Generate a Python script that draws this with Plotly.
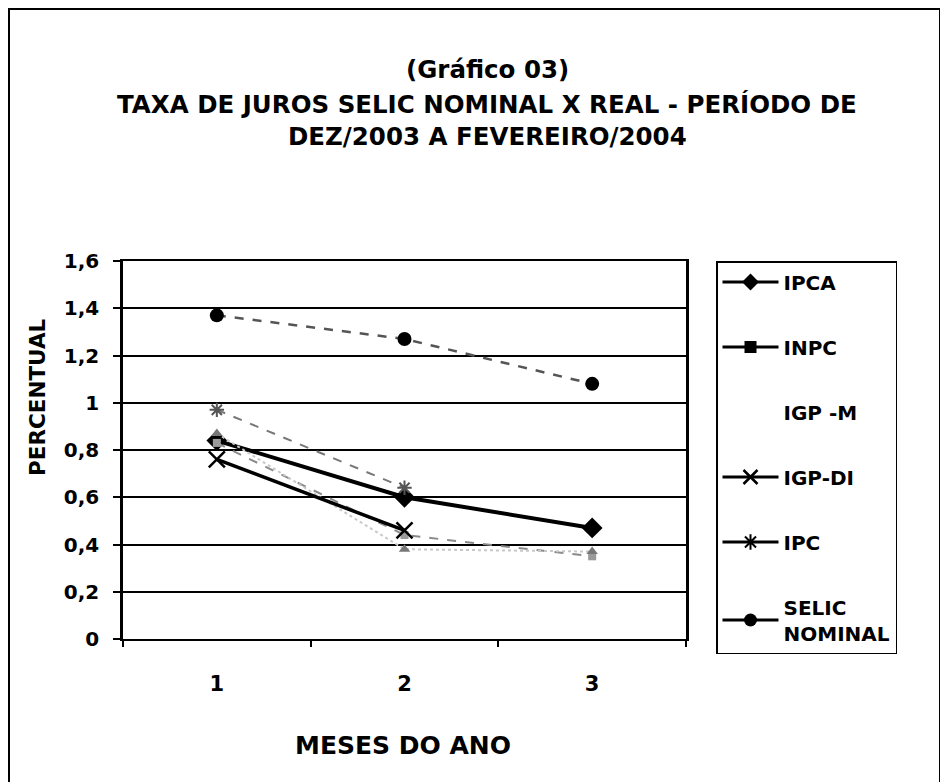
import plotly.graph_objects as go

meses = ["1", "2", "3"]
ipca = [0.84, 0.60, 0.47]
inpc = [0.83, 0.44, 0.35]
igpm = [0.87, 0.38, 0.37]
igpdi = [0.76, 0.46, None]
ipc = [0.97, 0.64, None]
selic = [1.37, 1.27, 1.08]

y_ticks = [0, 0.2, 0.4, 0.6, 0.8, 1, 1.2, 1.4, 1.6]
y_ticktext = ["0", "0,2", "0,4", "0,6", "0,8", "1", "1,2", "1,4", "1,6"]

title_lines = ["(Gráfico 03)",
               "TAXA DE JUROS SELIC NOMINAL X REAL - PERÍODO DE",
               "DEZ/2003 A FEVEREIRO/2004"]

FONT = "DejaVu Sans, Verdana, sans-serif"

fig = go.Figure()

# plotted series (as they appear in the scanned chart)
plot_styles = [
    ("IPCA", ipca, dict(color="black", width=4), dict(symbol="diamond", size=16, color="black")),
    ("INPC", inpc, dict(color="#8a8a8a", width=2, dash="dash"), dict(symbol="square", size=8, color="#9a9a9a")),
    ("IGP -M", igpm, dict(color="#c8c8c8", width=2, dash="dot"), dict(symbol="triangle-up", size=10, color="#777")),
    ("IGP-DI", igpdi, dict(color="black", width=3.5), dict(symbol="x-thin-open", size=16, color="black", line=dict(width=2.5, color="black"))),
    ("IPC", ipc, dict(color="#777", width=2, dash="dash"), dict(symbol="asterisk-open", size=12, color="#555", line=dict(width=2, color="#555"))),
    ("SELIC<br>NOMINAL", selic, dict(color="#555", width=2.5, dash="dash"), dict(symbol="circle", size=14, color="black")),
]

for name, vals, ln, mk in plot_styles:
    fig.add_trace(go.Scatter(x=meses, y=vals, mode="lines+markers", line=ln, marker=mk,
                             showlegend=False, legendgroup=name))

# legend entries (black, as in the legend of the reference)
legend_styles = [
    ("IPCA", dict(color="black", width=3), dict(symbol="diamond", size=13, color="black"), "lines+markers"),
    ("INPC", dict(color="black", width=3), dict(symbol="square", size=12, color="black"), "lines+markers"),
    ("IGP -M", dict(color="rgba(0,0,0,0)", width=3), dict(symbol="triangle-up", size=1, color="rgba(0,0,0,0)"), "lines"),
    ("IGP-DI", dict(color="black", width=3), dict(symbol="x-thin-open", size=14, color="black", line=dict(width=2.5, color="black")), "lines+markers"),
    ("IPC", dict(color="black", width=3), dict(symbol="asterisk-open", size=13, color="black", line=dict(width=2, color="black")), "lines+markers"),
    ("SELIC<br>NOMINAL", dict(color="black", width=3), dict(symbol="circle", size=13, color="black"), "lines+markers"),
]
for name, ln, mk, mode in legend_styles:
    fig.add_trace(go.Scatter(x=[None], y=[None], name=name, mode=mode, line=ln, marker=mk,
                             legendgroup=name, showlegend=True))

# page has an 8px body margin: figure origin is at page (8, 8)
OFF = 8
W, H = 948, 782
L, T = 123 - OFF, 261 - OFF
pw, ph = 563, 378
R = W - L - pw
B = H - T - ph

def px(page_x):
    return (page_x - OFF - L) / pw

def py(page_y):
    return (T + ph - (page_y - OFF)) / ph

annotations = []
for line_text, yc in zip(title_lines, [70, 104, 137]):
    annotations.append(dict(text=line_text, xref="paper", yref="paper", x=px(487), y=py(yc),
                            xanchor="center", yanchor="middle", showarrow=False,
                            font=dict(family=FONT, size=24.5, color="black", weight="bold")))
annotations += [
    dict(text="MESES DO ANO", xref="paper", yref="paper", x=px(403), y=py(745),
         xanchor="center", yanchor="middle", showarrow=False,
         font=dict(family=FONT, size=25, color="black", weight="bold")),
    dict(text="PERCENTUAL", xref="paper", yref="paper", x=px(37), y=py(397),
         xanchor="center", yanchor="middle", showarrow=False, textangle=-90,
         font=dict(family=FONT, size=21.5, color="black", weight="bold")),
]

fig.update_layout(
    width=W, height=H,
    margin=dict(l=L, r=R, t=T, b=B),
    paper_bgcolor="white", plot_bgcolor="white",
    font=dict(family=FONT, color="black", size=20),
    showlegend=True,
    legend=dict(
        x=px(716), y=1.0, xanchor="left", yanchor="top",
        bordercolor="black", borderwidth=1.5, bgcolor="white",
        font=dict(family=FONT, size=20, color="black", weight="bold"),
        traceorder="grouped", tracegroupgap=36, itemwidth=56, maxheight=440,
    ),
    xaxis=dict(
        type="category", categoryorder="array", categoryarray=meses, range=[-0.5, 2.5],
        tickson="boundaries", ticks="outside", ticklen=6, tickcolor="black", tickwidth=1.5,
        showline=True, linecolor="black", linewidth=2, mirror=True,
        showgrid=False, zeroline=False,
        tickfont=dict(family=FONT, size=21, color="black", weight="bold"),
        ticklabelstandoff=25,
    ),
    yaxis=dict(
        range=[0, 1.6], tickvals=y_ticks, ticktext=y_ticktext,
        ticks="outside", ticklen=7, tickcolor="black", tickwidth=1.5,
        showline=True, linecolor="black", linewidth=2.5, mirror=True,
        showgrid=True, gridcolor="black", gridwidth=1.5, zeroline=False,
        tickfont=dict(family=FONT, size=20, color="black", weight="bold"),
        ticklabelstandoff=10,
    ),
    annotations=annotations,
    shapes=[
        dict(type="rect", xref="paper", yref="paper", x0=px(9), x1=px(940), y0=py(800), y1=py(9),
             line=dict(color="black", width=2), fillcolor="rgba(0,0,0,0)", layer="below"),
    ],
)

fig.write_html("out.html")
